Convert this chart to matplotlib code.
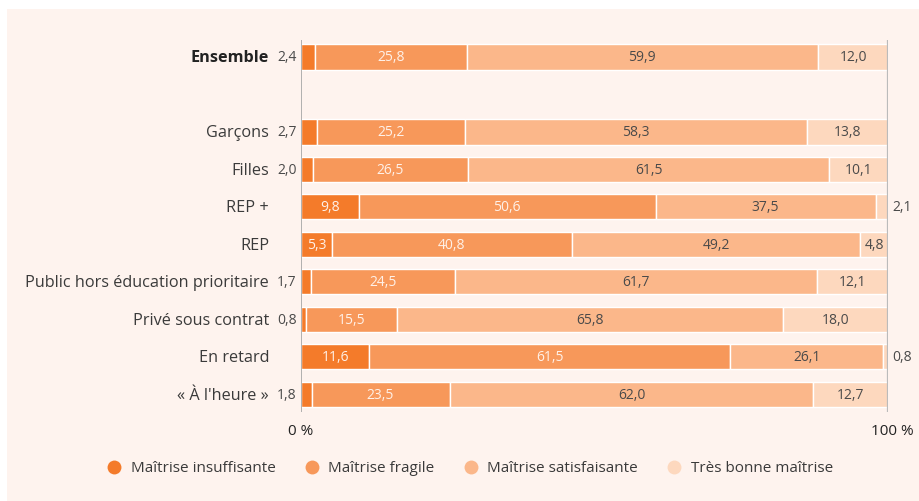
import matplotlib.pyplot as plt
from matplotlib.lines import Line2D
from matplotlib.patches import Rectangle

plt.rcParams['font.family'] = ['Open Sans', 'DejaVu Sans']

categories = ['Ensemble', 'Garçons', 'Filles', 'REP +', 'REP',
              'Public hors éducation prioritaire', 'Privé sous contrat',
              'En retard', '« À l\'heure »']
slots = [0, 2, 3, 4, 5, 6, 7, 8, 9]

insuffisante = [2.4, 2.7, 2.0, 9.8, 5.3, 1.7, 0.8, 11.6, 1.8]
fragile = [25.8, 25.2, 26.5, 50.6, 40.8, 24.5, 15.5, 61.5, 23.5]
satisfaisante = [59.9, 58.3, 61.5, 37.5, 49.2, 61.7, 65.8, 26.1, 62.0]
tres_bonne = [12.0, 13.8, 10.1, 2.1, 4.8, 12.1, 18.0, 0.8, 12.7]

series = [insuffisante, fragile, satisfaisante, tres_bonne]
names = ['Maîtrise insuffisante', 'Maîtrise fragile',
         'Maîtrise satisfaisante', 'Très bonne maîtrise']
colors = ['#F47B2A', '#F7985A', '#FBB78A', '#FDD8BE']
text_colors = ['#FFF1E8', '#FFF1E8', '#4A4A4A', '#4A4A4A']

bg = '#FEF3EE'
fig = plt.figure(figsize=(9.19, 5.01), dpi=100)
fig.patch.set_facecolor('white')
fig.patches.append(Rectangle((7 / 919, 0), 1, 1 - 9 / 501, transform=fig.transFigure,
                             facecolor=bg, edgecolor='none', zorder=-10))

ax = fig.add_axes([301 / 919, 89 / 501, 587 / 919, 372 / 501])
ax.set_facecolor('none')
ax.set_xlim(0, 100)
ax.set_ylim(9.47, -0.453)
for s in ax.spines.values():
    s.set_visible(False)
ax.set_xticks([])
ax.set_yticks([])
ax.axvline(0, color='#AAAAAA', lw=1.3, zorder=5)
ax.axvline(100, color='#BBBBBB', lw=1.6, zorder=5)

h = 0.67
left = [0.0] * len(categories)
for k, vals in enumerate(series):
    ax.barh(slots, vals, left=left, height=h, color=colors[k],
            edgecolor='white', linewidth=1.0, zorder=3)
    for i, v in enumerate(vals):
        y = slots[i]
        lab = f'{v:.1f}'.replace('.', ',')
        if k == 0 and v < 3:
            ax.annotate(lab, (0, y), xytext=(-3, -0.5), textcoords='offset points',
                        ha='right', va='center', fontsize=10, color='#4A4A4A')
        elif k == 3 and v < 3:
            ax.annotate(lab, (100, y), xytext=(3, -0.5), textcoords='offset points',
                        ha='left', va='center', fontsize=10, color='#4A4A4A')
        else:
            ax.annotate(lab, (left[i] + v / 2, y), xytext=(0, -0.5),
                        textcoords='offset points', ha='center', va='center',
                        fontsize=10, color=text_colors[k], zorder=4)
        left[i] += v

for i, c in enumerate(categories):
    bold = c == 'Ensemble'
    ax.annotate(c, (0, slots[i]), xytext=(-23, -1), textcoords='offset points',
                ha='right', va='center', fontsize=11.7,
                fontweight='bold' if bold else 'normal',
                color='#222222' if bold else '#3A3A3A')

ax.text(0, 10.0, '0 %', ha='center', va='center', fontsize=11, color='#222222')
ax.text(100.7, 10.0, '100 %', ha='center', va='center', fontsize=11, color='#222222')

handles = [Line2D([], [], marker='o', linestyle='none', markersize=10,
                  markerfacecolor=colors[k], markeredgecolor='none')
           for k in range(4)]
fig.legend(handles, names, loc='center', bbox_to_anchor=(466 / 919, 1 - 469 / 501),
           ncol=4, frameon=False, fontsize=11, handletextpad=0.05,
           columnspacing=1.4, labelcolor='#3A3A3A')

fig.savefig('out.png', dpi=100, facecolor=fig.get_facecolor())
